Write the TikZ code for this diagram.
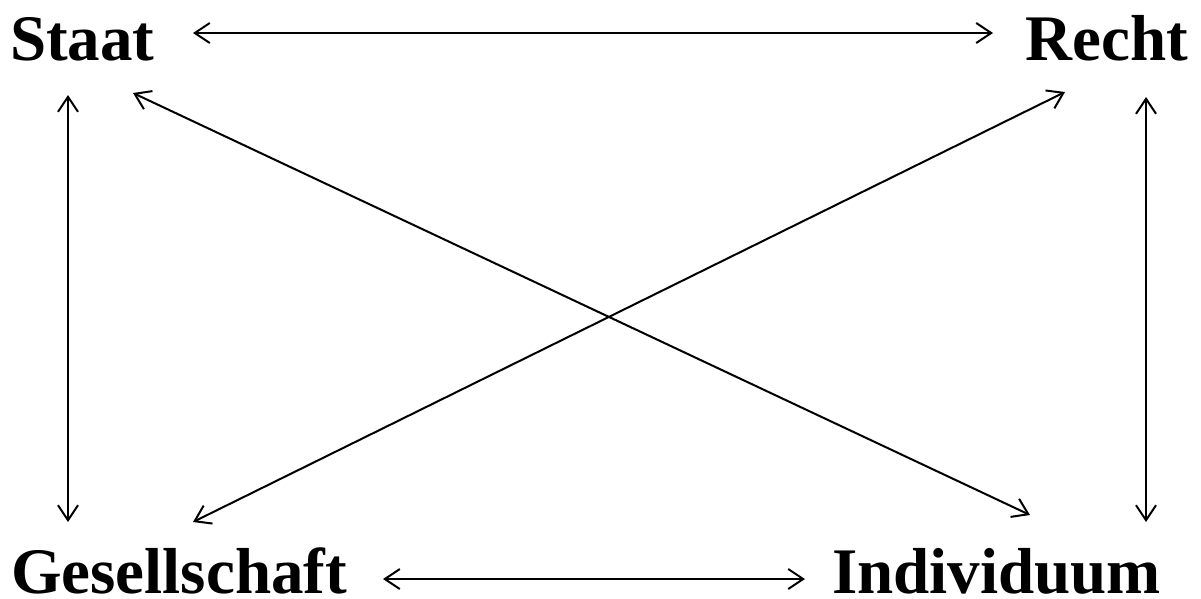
\documentclass[tikz,border=0pt]{standalone}
\usepackage{fontspec}
\setmainfont{Liberation Serif}
\usetikzlibrary{arrows.meta}
\begin{document}
\begin{tikzpicture}[x=1pt,y=-1pt,
  lbl/.style={font=\fontsize{65}{70}\selectfont\bfseries, inner sep=0pt, text depth=0pt},
  link/.style={line width=2pt, {Straight Barb[length=15pt,width=20pt]}-{Straight Barb[length=15pt,width=20pt]}}]
\useasboundingbox (0,0) rectangle (1201,598);
\node[lbl, anchor=base west] (staat) at (10,60) {Staat};
\node[lbl, anchor=base east] (recht) at (1188,60) {Recht};
\node[lbl, anchor=base west] (ges) at (11,593) {Gesellschaft};
\node[lbl, anchor=base east] (ind) at (1161,593) {Individuum};
\coordinate (sR) at (193,33); \coordinate (rL) at (993,33);
\coordinate (gR) at (383,579); \coordinate (iL) at (805,579);
\coordinate (sB) at (68,95); \coordinate (gT) at (68,522);
\coordinate (rB) at (1146,97); \coordinate (iT) at (1146,522);
\coordinate (sD) at (133,93); \coordinate (iD) at (1030,515);
\coordinate (rD) at (1065,92); \coordinate (gD) at (193,522);
\draw[link] (sR) -- (rL);
\draw[link] (gR) -- (iL);
\draw[link] (sB) -- (gT);
\draw[link] (rB) -- (iT);
\draw[link] (sD) -- (iD);
\draw[link] (rD) -- (gD);
\end{tikzpicture}
\end{document}
